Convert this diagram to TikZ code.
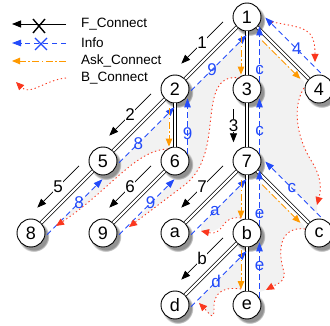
\documentclass[tikz,border=0pt]{standalone}
\usepackage{fontspec}
\setmainfont{Liberation Sans}
\usetikzlibrary{calc,arrows.meta,shadows}

\definecolor{infoblue}{RGB}{35,75,250}
\definecolor{askorange}{RGB}{255,153,0}
\definecolor{backred}{RGB}{250,55,30}
\definecolor{areagray}{RGB}{242,242,242}

\tikzset{
  vertex/.style={circle, draw, line width=0.9pt, fill=white, minimum size=28pt, inner sep=0pt,
    font=\fontsize{18}{18}\selectfont,
    circular drop shadow={shadow xshift=2.5pt, shadow yshift=-3pt, shadow scale=1.12, opacity=0.85}},
  treeedge/.style={draw=black, double=white, line width=0.7pt, double distance=2.2pt},
  fconn/.style={draw=black, line width=0.8pt, -{Triangle[length=9pt,width=7pt]}},
  info/.style={draw=infoblue, line width=0.9pt, dash pattern=on 5.5pt off 3.5pt,
    -{Triangle[length=9pt,width=6.5pt]}},
  ask/.style={draw=askorange, line width=0.9pt, dash pattern=on 7pt off 2.5pt on 1.5pt off 2.5pt,
    -{Triangle[length=8pt,width=6.5pt]}},
  bconn/.style={draw=backred, line width=0.9pt, dash pattern=on 1.3pt off 2.7pt,
    -{Triangle[length=8pt,width=7pt]}},
  flabel/.style={font=\fontsize{17}{17}\selectfont, fill=white, inner sep=0.5pt},
  ilabel/.style={font=\fontsize{17}{17}\selectfont, text=infoblue, inner sep=0pt},
  legend/.style={anchor=west, inner sep=0pt, font=\fontsize{13.5}{13.5}\selectfont}
}

\begin{document}
\begin{tikzpicture}[x=1pt, y=-1pt]
\useasboundingbox (0,0) rectangle (330,326);

\def\infoOff{12.5pt}
\def\fOff{13.5pt}
\def\askOff{6pt}

% ends of the B_Connect curves
\coordinate (r1a) at (272,22);  \coordinate (r1b) at (315,62);
\coordinate (r2a) at (304,88);  \coordinate (r2b) at (317,205);
\coordinate (r3a) at (305,229); \coordinate (r3b) at (266,290);
\coordinate (r4a) at (241,289); \coordinate (r4b) at (199,303);
\coordinate (r5a) at (241,218); \coordinate (r5b) at (201,231);
\coordinate (r6a) at (240,78);  \coordinate (r6b) at (129,227);
\coordinate (r7a) at (168,149); \coordinate (r7b) at (56,226);

% shaded areas
\fill[areagray] (r7a) .. controls (135,150) and (110,190) .. (r7b) -- (45,236) -- (112,170) -- (169,113) -- cycle;
\fill[areagray] (r6a) .. controls (214,74) and (213,100) .. (210,125)
  .. controls (207,155) and (200,172) .. (186,184) -- (r6b) -- (184,170) -- (188,165) -- (188,94)
  -- (241,41) -- (241,78) -- cycle;
\fill[areagray] (260,38) -- (304,82) -- (r2a) .. controls (293,105) and (295,135) .. (312,162)
  .. controls (322,178) and (321,190) .. (r2b) -- (317,213) -- (260,156) -- cycle;
\fill[areagray] (r3a) .. controls (280,226) and (277,250) .. (284,272)
  .. controls (286,282) and (275,285) .. (r3b) -- (260,292) -- (260,182) -- (303,225) -- cycle;
\fill[areagray] (r4a) .. controls (220,286) and (213,295) .. (214,310)
  .. controls (214,322) and (208,312) .. (r4b) -- (199,299) -- (241,257) -- cycle;
\fill[areagray] (r5a) .. controls (220,215) and (225,236) .. (r5b) -- (201,225) -- (241,185) -- cycle;

% nodes
\node[vertex] (n1) at (247,17) {1};
\node[vertex] (n2) at (175,89) {2};
\node[vertex] (n3) at (247,89) {3};
\node[vertex] (n4) at (319,89) {4};
\node[vertex] (n5) at (103,161) {5};
\node[vertex] (n6) at (175,161) {6};
\node[vertex] (n7) at (247,161) {7};
\node[vertex] (n8) at (31,233) {8};
\node[vertex] (n9) at (103,233) {9};
\node[vertex] (na) at (175,233) {a};
\node[vertex] (nb) at (247,233) {b};
\node[vertex] (nc) at (319,233) {c};
\node[vertex] (nd) at (175,305) {d};
\node[vertex] (ne) at (247,305) {e};

% tree
\draw[treeedge] (n1) -- (n2);
\draw[treeedge] (n1) -- (n3);
\draw[treeedge] (n1) -- (n4);
\draw[treeedge] (n2) -- (n5);
\draw[treeedge] (n2) -- (n6);
\draw[treeedge] (n3) -- (n7);
\draw[treeedge] (n5) -- (n8);
\draw[treeedge] (n6) -- (n9);
\draw[treeedge] (n7) -- (na);
\draw[treeedge] (n7) -- (nb);
\draw[treeedge] (n7) -- (nc);
\draw[treeedge] (nb) -- (nd);
\draw[treeedge] (nb) -- (ne);

% F_Connect
\draw[fconn] ($(n1)!0.2!(n2)!\fOff!-90:(n2)$) -- ($(n1)!0.78!(n2)!\fOff!-90:(n2)$) node[midway, flabel] (lf1) {1};
\draw[fconn] ($(n2)!0.2!(n5)!\fOff!-90:(n5)$) -- ($(n2)!0.78!(n5)!\fOff!-90:(n5)$) node[midway, flabel] (lf2) {2};
\draw[fconn] ($(n3)!0.28!(n7)!\fOff!-90:(n7)$) -- ($(n3)!0.74!(n7)!\fOff!-90:(n7)$) node[midway, flabel] (lf3) {3};
\draw[fconn] ($(n5)!0.2!(n8)!\fOff!-90:(n8)$) -- ($(n5)!0.78!(n8)!\fOff!-90:(n8)$) node[midway, flabel] (lf5) {5};
\draw[fconn] ($(n6)!0.2!(n9)!\fOff!-90:(n9)$) -- ($(n6)!0.78!(n9)!\fOff!-90:(n9)$) node[midway, flabel] (lf6) {6};
\draw[fconn] ($(n7)!0.2!(na)!\fOff!-90:(na)$) -- ($(n7)!0.78!(na)!\fOff!-90:(na)$) node[midway, flabel] (lf7) {7};
\draw[fconn] ($(nb)!0.2!(nd)!\fOff!-90:(nd)$) -- ($(nb)!0.78!(nd)!\fOff!-90:(nd)$) node[midway, flabel] (lfb) {b};

% Info
\draw[info] ($(n2)!0.1!(n1)!\infoOff!-90:(n1)$) -- ($(n2)!0.87!(n1)!\infoOff!-90:(n1)$) node[pos=0.38, ilabel] (li21) {9};
\draw[info] ($(n3)!0.1!(n1)!\infoOff!-90:(n1)$) -- ($(n3)!0.87!(n1)!\infoOff!-90:(n1)$) node[pos=0.22, ilabel] (li31) {c};
\draw[info] ($(n4)!0.1!(n1)!\infoOff!-90:(n1)$) -- ($(n4)!0.87!(n1)!\infoOff!-90:(n1)$) node[pos=0.43, ilabel] (li41) {4};
\draw[info] ($(n5)!0.1!(n2)!\infoOff!-90:(n2)$) -- ($(n5)!0.87!(n2)!\infoOff!-90:(n2)$) node[pos=0.35, ilabel] (li52) {8};
\draw[info] ($(n6)!0.1!(n2)!\infoOff!-90:(n2)$) -- ($(n6)!0.87!(n2)!\infoOff!-90:(n2)$) node[pos=0.36, ilabel] (li62) {9};
\draw[info] ($(n7)!0.1!(n3)!\infoOff!-90:(n3)$) -- ($(n7)!0.87!(n3)!\infoOff!-90:(n3)$) node[pos=0.42, ilabel] (li73) {c};
\draw[info] ($(n8)!0.1!(n5)!\infoOff!-90:(n5)$) -- ($(n8)!0.87!(n5)!\infoOff!-90:(n5)$) node[pos=0.58, ilabel] (li85) {8};
\draw[info] ($(n9)!0.1!(n6)!\infoOff!-90:(n6)$) -- ($(n9)!0.87!(n6)!\infoOff!-90:(n6)$) node[pos=0.57, ilabel] (li96) {9};
\draw[info] ($(na)!0.1!(n7)!\infoOff!-90:(n7)$) -- ($(na)!0.87!(n7)!\infoOff!-90:(n7)$) node[pos=0.43, ilabel] (lia7) {a};
\draw[info] ($(nb)!0.1!(n7)!\infoOff!-90:(n7)$) -- ($(nb)!0.87!(n7)!\infoOff!-90:(n7)$) node[pos=0.21, ilabel] (lib7) {e};
\draw[info] ($(nc)!0.1!(n7)!\infoOff!-90:(n7)$) -- ($(nc)!0.87!(n7)!\infoOff!-90:(n7)$) node[pos=0.52, ilabel] (lic7) {c};
\draw[info] ($(nd)!0.1!(nb)!\infoOff!-90:(nb)$) -- ($(nd)!0.87!(nb)!\infoOff!-90:(nb)$) node[pos=0.45, ilabel] (lidb) {d};
\draw[info] ($(ne)!0.1!(nb)!\infoOff!-90:(nb)$) -- ($(ne)!0.87!(nb)!\infoOff!-90:(nb)$) node[pos=0.58, ilabel] (lieb) {e};

% Ask_Connect
\draw[ask] ($(n1)!0.27!(n3)!\askOff!-90:(n3)$) -- ($(n1)!0.8!(n3)!\askOff!-90:(n3)$);
\draw[ask] ($(n1)!0.27!(n4)!\askOff!-90:(n4)$) -- ($(n1)!0.8!(n4)!\askOff!-90:(n4)$);
\draw[ask] ($(n2)!0.27!(n6)!\askOff!-90:(n6)$) -- ($(n2)!0.8!(n6)!\askOff!-90:(n6)$);
\draw[ask] ($(n7)!0.27!(nb)!\askOff!-90:(nb)$) -- ($(n7)!0.8!(nb)!\askOff!-90:(nb)$);
\draw[ask] ($(n7)!0.27!(nc)!\askOff!-90:(nc)$) -- ($(n7)!0.8!(nc)!\askOff!-90:(nc)$);
\draw[ask] ($(nb)!0.24!(ne)!\askOff!-90:(ne)$) -- ($(nb)!0.78!(ne)!\askOff!-90:(ne)$);

% B_Connect
\draw[bconn] (r1a) .. controls (305,28) and (315,28) .. (r1b);
\draw[bconn] (r2a) .. controls (293,105) and (295,135) .. (312,162)
  .. controls (322,178) and (321,190) .. (r2b);
\draw[bconn] (r3a) .. controls (280,226) and (277,250) .. (284,272)
  .. controls (286,282) and (275,285) .. (r3b);
\draw[bconn] (r4a) .. controls (220,286) and (213,295) .. (214,310)
  .. controls (214,322) and (208,312) .. (r4b);
\draw[bconn] (r5a) .. controls (220,215) and (225,236) .. (r5b);
\draw[bconn] (r6a) .. controls (214,74) and (213,100) .. (210,125)
  .. controls (207,155) and (200,172) .. (186,184) -- (r6b);
\draw[bconn] (r7a) .. controls (135,150) and (110,190) .. (r7b);

% legend
\node[legend] (lgF) at (81,24) {F\_Connect};
\node[legend] (lgI) at (81,43) {Info};
\node[legend] (lgA) at (81,61) {Ask\_Connect};
\node[legend] (lgB) at (81,78) {B\_Connect};

\draw[fconn] ($(lgF.west)+(-15,0)$) -- ($(lgF.west)+(-69,0)$);
\draw[line width=1.4pt] ($(lgF.west)+(-48,-5)$) -- ($(lgF.west)+(-36,9)$)
  ($(lgF.west)+(-48,9)$) -- ($(lgF.west)+(-36,-5)$);
\draw[info] ($(lgI.west)+(-15,0)$) -- ($(lgI.west)+(-69,0)$);
\draw[infoblue, line width=1.4pt] ($(lgI.west)+(-46,-5)$) -- ($(lgI.west)+(-34,7)$)
  ($(lgI.west)+(-46,7)$) -- ($(lgI.west)+(-34,-5)$);
\draw[ask] ($(lgA.west)+(-15,0)$) -- ($(lgA.west)+(-69,0)$);
\draw[bconn] ($(lgB.west)+(-15,0)$) .. controls ($(lgB.west)+(-36,2)$) and ($(lgB.west)+(-51,18)$)
  .. ($(lgB.west)+(-65,4)$);

\end{tikzpicture}
\end{document}
